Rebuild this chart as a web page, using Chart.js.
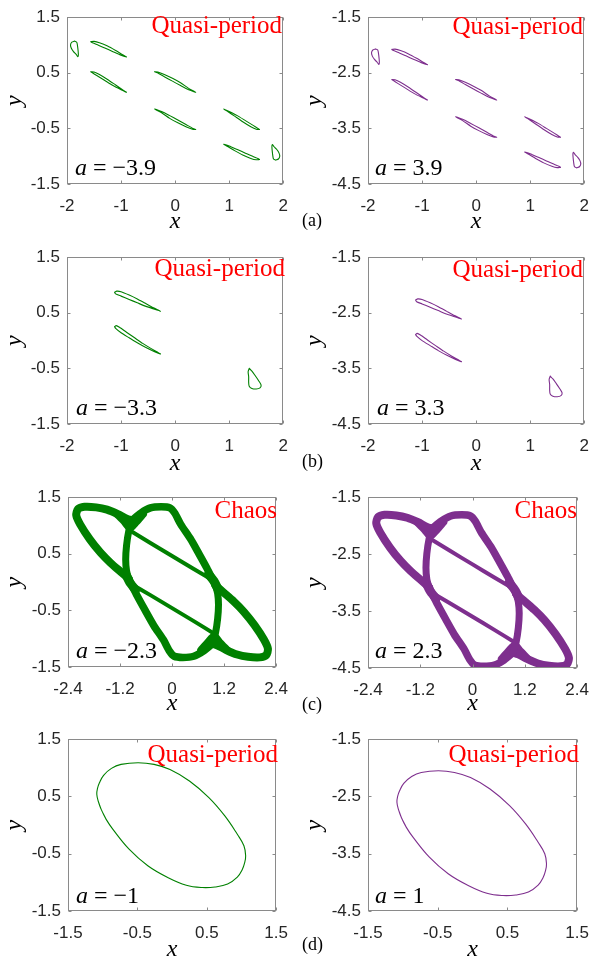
<!DOCTYPE html>
<html><head><meta charset="utf-8">
<script src="https://cdn.jsdelivr.net/npm/chart.js@4.4.1/dist/chart.umd.min.js"></script>
<style>
html,body{margin:0;padding:0;background:#fff;}
#fig{position:relative;width:601px;height:966px;overflow:hidden;background:#fff;}
canvas{position:absolute;}
</style></head><body><div id="fig"></div>
<script>
// ---------- tick values ----------
const xTicksAB = [-2, -1, 0, 1, 2];
const xTicksC = [-2.4, -1.2, 0, 1.2, 2.4];
const xTicksD = [-1.5, -0.5, 0.5, 1.5];
const yTicksLeft = [-1.5, -0.5, 0.5, 1.5];
const yTicksRight = [-4.5, -3.5, -2.5, -1.5];

// ---------- (a) a = -3.9 ----------
const aL_loop1 = [[-1.86,1.07],[-1.91,1.05],[-1.935,1.00],[-1.92,0.94],[-1.88,0.88],[-1.83,0.83],[-1.80,0.79],[-1.79,0.82],[-1.795,0.90],[-1.805,0.98],[-1.82,1.05],[-1.86,1.07]];
const aL_loop2 = [[-1.56,1.06],[-1.50,1.065],[-1.40,1.04],[-1.25,0.98],[-1.10,0.90],[-0.98,0.83],[-0.90,0.785],[-1.00,0.815],[-1.15,0.88],[-1.30,0.945],[-1.45,1.01],[-1.53,1.04],[-1.56,1.06]];
const aL_loop3 = [[-1.56,0.52],[-1.50,0.515],[-1.40,0.47],[-1.25,0.38],[-1.10,0.28],[-0.98,0.20],[-0.90,0.15],[-1.00,0.195],[-1.15,0.27],[-1.30,0.36],[-1.45,0.45],[-1.53,0.50],[-1.56,0.52]];
const aL_loop4 = [[-0.38,0.52],[-0.32,0.515],[-0.20,0.47],[-0.05,0.40],[0.10,0.32],[0.25,0.22],[0.38,0.15],[0.25,0.195],[0.10,0.27],[-0.05,0.35],[-0.20,0.43],[-0.33,0.50],[-0.38,0.52]];
const aL_loop5 = [[0.38,-0.52],[0.32,-0.515],[0.20,-0.47],[0.05,-0.40],[-0.10,-0.32],[-0.25,-0.22],[-0.38,-0.15],[-0.25,-0.195],[-0.10,-0.27],[0.05,-0.35],[0.20,-0.43],[0.33,-0.50],[0.38,-0.52]];
const aL_loop6 = [[1.56,-0.52],[1.50,-0.515],[1.40,-0.47],[1.25,-0.38],[1.10,-0.28],[0.98,-0.20],[0.90,-0.15],[1.00,-0.195],[1.15,-0.27],[1.30,-0.36],[1.45,-0.45],[1.53,-0.50],[1.56,-0.52]];
const aL_loop7 = [[1.56,-1.06],[1.50,-1.065],[1.40,-1.04],[1.25,-0.98],[1.10,-0.90],[0.98,-0.83],[0.90,-0.785],[1.00,-0.815],[1.15,-0.88],[1.30,-0.945],[1.45,-1.01],[1.53,-1.04],[1.56,-1.06]];
const aL_loop8 = [[1.86,-1.07],[1.91,-1.05],[1.935,-1.00],[1.92,-0.94],[1.88,-0.88],[1.83,-0.83],[1.80,-0.79],[1.79,-0.82],[1.795,-0.90],[1.805,-0.98],[1.82,-1.05],[1.86,-1.07]];

// ---------- (a) a = 3.9 ----------
const aR_loop1 = [[-1.86,-2.07],[-1.91,-2.09],[-1.935,-2.14],[-1.92,-2.20],[-1.88,-2.26],[-1.83,-2.31],[-1.80,-2.35],[-1.79,-2.32],[-1.795,-2.24],[-1.805,-2.16],[-1.82,-2.09],[-1.86,-2.07]];
const aR_loop2 = [[-1.56,-2.08],[-1.50,-2.075],[-1.40,-2.10],[-1.25,-2.16],[-1.10,-2.24],[-0.98,-2.31],[-0.90,-2.355],[-1.00,-2.325],[-1.15,-2.26],[-1.30,-2.195],[-1.45,-2.13],[-1.53,-2.10],[-1.56,-2.08]];
const aR_loop3 = [[-1.56,-2.62],[-1.50,-2.625],[-1.40,-2.67],[-1.25,-2.76],[-1.10,-2.86],[-0.98,-2.94],[-0.90,-2.99],[-1.00,-2.945],[-1.15,-2.87],[-1.30,-2.78],[-1.45,-2.69],[-1.53,-2.64],[-1.56,-2.62]];
const aR_loop4 = [[-0.38,-2.62],[-0.32,-2.625],[-0.20,-2.67],[-0.05,-2.74],[0.10,-2.82],[0.25,-2.92],[0.38,-2.99],[0.25,-2.945],[0.10,-2.87],[-0.05,-2.79],[-0.20,-2.71],[-0.33,-2.64],[-0.38,-2.62]];
const aR_loop5 = [[0.38,-3.66],[0.32,-3.655],[0.20,-3.61],[0.05,-3.54],[-0.10,-3.46],[-0.25,-3.36],[-0.38,-3.29],[-0.25,-3.335],[-0.10,-3.41],[0.05,-3.49],[0.20,-3.57],[0.33,-3.64],[0.38,-3.66]];
const aR_loop6 = [[1.56,-3.66],[1.50,-3.655],[1.40,-3.61],[1.25,-3.52],[1.10,-3.42],[0.98,-3.34],[0.90,-3.29],[1.00,-3.335],[1.15,-3.41],[1.30,-3.50],[1.45,-3.59],[1.53,-3.64],[1.56,-3.66]];
const aR_loop7 = [[1.56,-4.20],[1.50,-4.205],[1.40,-4.18],[1.25,-4.12],[1.10,-4.04],[0.98,-3.97],[0.90,-3.925],[1.00,-3.955],[1.15,-4.02],[1.30,-4.085],[1.45,-4.15],[1.53,-4.18],[1.56,-4.20]];
const aR_loop8 = [[1.86,-4.21],[1.91,-4.19],[1.935,-4.14],[1.92,-4.08],[1.88,-4.02],[1.83,-3.97],[1.80,-3.93],[1.79,-3.96],[1.795,-4.04],[1.805,-4.12],[1.82,-4.19],[1.86,-4.21]];

// ---------- (b) a = -3.3 / 3.3 ----------
const bL_loopA = [[-1.12,0.87],[-1.08,0.89],[-1.00,0.88],[-0.85,0.82],[-0.70,0.75],[-0.55,0.67],[-0.40,0.59],[-0.27,0.53],[-0.40,0.57],[-0.55,0.62],[-0.70,0.68],[-0.85,0.74],[-1.00,0.80],[-1.10,0.84],[-1.12,0.87]];
const bL_loopB = [[-1.12,0.25],[-1.09,0.27],[-1.03,0.24],[-0.90,0.15],[-0.75,0.05],[-0.60,-0.05],[-0.45,-0.14],[-0.27,-0.24],[-0.40,-0.19],[-0.55,-0.12],[-0.70,-0.04],[-0.85,0.05],[-1.00,0.14],[-1.10,0.22],[-1.12,0.25]];
const bL_loopC = [[1.37,-0.50],[1.35,-0.56],[1.36,-0.65],[1.36,-0.75],[1.37,-0.82],[1.42,-0.86],[1.50,-0.87],[1.57,-0.85],[1.59,-0.80],[1.55,-0.73],[1.48,-0.63],[1.42,-0.55],[1.37,-0.50]];
const bR_loopA = [[-1.12,-2.27],[-1.08,-2.25],[-1.00,-2.26],[-0.85,-2.32],[-0.70,-2.39],[-0.55,-2.47],[-0.40,-2.55],[-0.27,-2.61],[-0.40,-2.57],[-0.55,-2.52],[-0.70,-2.46],[-0.85,-2.40],[-1.00,-2.34],[-1.10,-2.30],[-1.12,-2.27]];
const bR_loopB = [[-1.12,-2.89],[-1.09,-2.87],[-1.03,-2.90],[-0.90,-2.99],[-0.75,-3.09],[-0.60,-3.19],[-0.45,-3.28],[-0.27,-3.38],[-0.40,-3.33],[-0.55,-3.26],[-0.70,-3.18],[-0.85,-3.09],[-1.00,-3.00],[-1.10,-2.92],[-1.12,-2.89]];
const bR_loopC = [[1.37,-3.64],[1.35,-3.70],[1.36,-3.79],[1.36,-3.89],[1.37,-3.96],[1.42,-4.00],[1.50,-4.01],[1.57,-3.99],[1.59,-3.94],[1.55,-3.87],[1.48,-3.77],[1.42,-3.69],[1.37,-3.64]];

// ---------- (c) a = -2.3 (chaos bands) ----------
const cL_outerUL = [[-1.00,0.06],[-1.18,0.18],[-1.42,0.34],[-1.65,0.52],[-1.90,0.76],[-2.12,1.02],[-2.21,1.18],[-2.17,1.29],[-2.02,1.33],[-1.75,1.32],[-1.50,1.28],[-1.25,1.20],[-1.05,1.12],[-0.93,1.09]];
const cL_innerL = [[-0.93,1.09],[-1.00,0.90],[-1.05,0.65],[-1.07,0.40],[-1.05,0.20],[-1.00,0.06]];
const cL_lobeUR = [[-0.93,1.09],[-0.72,1.22],[-0.50,1.31],[-0.25,1.33],[-0.05,1.31],[0.06,1.22],[0.20,1.02],[0.42,0.77],[0.62,0.50],[0.80,0.25],[0.93,0.05],[1.00,-0.06]];
const cL_diagU = [[-0.99,0.92],[-0.50,0.69],[0.00,0.46],[0.50,0.23],[0.97,0.02]];
const cL_innerR = [[1.00,-0.06],[1.05,-0.20],[1.07,-0.40],[1.05,-0.65],[1.00,-0.90],[0.93,-1.09]];
const cL_diagD = [[-0.97,-0.02],[-0.50,-0.23],[0.00,-0.46],[0.50,-0.69],[0.99,-0.92]];
const cL_lobeDL = [[-1.00,0.06],[-0.93,-0.05],[-0.80,-0.25],[-0.62,-0.50],[-0.42,-0.77],[-0.20,-1.02],[-0.06,-1.22],[0.05,-1.31],[0.25,-1.33],[0.50,-1.31],[0.72,-1.22],[0.93,-1.09]];
const cL_outerDR = [[1.00,-0.06],[1.18,-0.18],[1.42,-0.34],[1.65,-0.52],[1.90,-0.76],[2.12,-1.02],[2.21,-1.18],[2.17,-1.29],[2.02,-1.33],[1.75,-1.32],[1.50,-1.28],[1.25,-1.20],[1.05,-1.12],[0.93,-1.09]];
const cL_knotTop = [[-1.28,1.20],[-1.10,1.06],[-0.97,0.95],[-0.82,1.06],[-0.66,1.20]];
const cL_knotBot = [[1.28,-1.20],[1.10,-1.06],[0.97,-0.95],[0.82,-1.06],[0.66,-1.20]];
const cL_knotLeft = [[-1.07,0.14],[-0.98,0.00],[-0.84,-0.14]];
const cL_knotRight = [[1.07,-0.14],[0.98,0.00],[0.84,0.14]];

// ---------- (c) a = 2.3 ----------
const cR_outerUL = [[-1.00,-3.08],[-1.18,-2.96],[-1.42,-2.80],[-1.65,-2.62],[-1.90,-2.38],[-2.12,-2.12],[-2.21,-1.96],[-2.17,-1.85],[-2.02,-1.81],[-1.75,-1.82],[-1.50,-1.86],[-1.25,-1.94],[-1.05,-2.02],[-0.93,-2.05]];
const cR_innerL = [[-0.93,-2.05],[-1.00,-2.24],[-1.05,-2.49],[-1.07,-2.74],[-1.05,-2.94],[-1.00,-3.08]];
const cR_lobeUR = [[-0.93,-2.05],[-0.72,-1.92],[-0.50,-1.83],[-0.25,-1.81],[-0.05,-1.83],[0.06,-1.92],[0.20,-2.12],[0.42,-2.37],[0.62,-2.64],[0.80,-2.89],[0.93,-3.09],[1.00,-3.20]];
const cR_diagU = [[-0.99,-2.22],[-0.50,-2.45],[0.00,-2.68],[0.50,-2.91],[0.97,-3.12]];
const cR_innerR = [[1.00,-3.20],[1.05,-3.34],[1.07,-3.54],[1.05,-3.79],[1.00,-4.04],[0.93,-4.23]];
const cR_diagD = [[-0.97,-3.16],[-0.50,-3.37],[0.00,-3.60],[0.50,-3.83],[0.99,-4.06]];
const cR_lobeDL = [[-1.00,-3.08],[-0.93,-3.19],[-0.80,-3.39],[-0.62,-3.64],[-0.42,-3.91],[-0.20,-4.16],[-0.06,-4.36],[0.05,-4.45],[0.25,-4.47],[0.50,-4.45],[0.72,-4.36],[0.93,-4.23]];
const cR_outerDR = [[1.00,-3.20],[1.18,-3.32],[1.42,-3.48],[1.65,-3.66],[1.90,-3.90],[2.12,-4.16],[2.21,-4.32],[2.17,-4.43],[2.02,-4.47],[1.75,-4.46],[1.50,-4.42],[1.25,-4.34],[1.05,-4.26],[0.93,-4.23]];
const cR_knotTop = [[-1.28,-1.94],[-1.10,-2.08],[-0.97,-2.19],[-0.82,-2.08],[-0.66,-1.94]];
const cR_knotBot = [[1.28,-4.34],[1.10,-4.20],[0.97,-4.09],[0.82,-4.20],[0.66,-4.34]];
const cR_knotLeft = [[-1.07,-3.00],[-0.98,-3.14],[-0.84,-3.28]];
const cR_knotRight = [[1.07,-3.28],[0.98,-3.14],[0.84,-3.00]];

// ---------- (d) a = -1 / 1 (orbit traced slightly past its start) ----------
const dL_orbit = [[-0.95,0.10],[-1.02,0.27],[-1.065,0.42],[-1.085,0.54],[-1.075,0.64],[-1.047,0.74],[-0.987,0.87],[-0.874,0.99],[-0.736,1.06],[-0.49,1.09],[-0.26,1.06],[-0.03,0.97],[0.25,0.77],[0.53,0.48],[0.76,0.16],[0.94,-0.16],[1.035,-0.36],[1.06,-0.535],[1.045,-0.66],[1.01,-0.78],[0.94,-0.91],[0.80,-1.03],[0.62,-1.08],[0.435,-1.09],[0.205,-1.05],[-0.07,-0.91],[-0.35,-0.71],[-0.62,-0.42],[-0.855,-0.07],[-0.95,0.10],[-1.02,0.27],[-1.065,0.42]];
const dR_orbit = [[-0.95,-3.04],[-1.02,-2.87],[-1.065,-2.72],[-1.085,-2.60],[-1.075,-2.50],[-1.047,-2.40],[-0.987,-2.27],[-0.874,-2.15],[-0.736,-2.08],[-0.49,-2.05],[-0.26,-2.08],[-0.03,-2.17],[0.25,-2.37],[0.53,-2.66],[0.76,-2.98],[0.94,-3.30],[1.035,-3.50],[1.06,-3.675],[1.045,-3.80],[1.01,-3.92],[0.94,-4.05],[0.80,-4.17],[0.62,-4.22],[0.435,-4.23],[0.205,-4.19],[-0.07,-4.05],[-0.35,-3.85],[-0.62,-3.56],[-0.855,-3.21],[-0.95,-3.04],[-1.02,-2.87],[-1.065,-2.72]];

// ---------- styling / layout ----------
const GREEN = '#008000', PURPLE = '#7E2F8E';
const thin = (pts, t) => ({pts, w: 1.1, t: t});
const band = (pts, w) => ({pts, w, t: 0.25});

const framePlugin = {
  id: 'frame',
  afterDatasetsDraw(chart) {
    const {ctx, chartArea: ca, scales: {x, y}} = chart;
    ctx.save();
    ctx.strokeStyle = '#8a8a8a'; ctx.lineWidth = 1;
    const L = Math.round(ca.left) + 0.5, T = Math.round(ca.top) + 0.5, R = Math.round(ca.right) - 0.5, B = Math.round(ca.bottom) - 0.5;
    ctx.strokeRect(L, T, R - L, B - T);
    ctx.beginPath();
    x.ticks.forEach(t => { const px = Math.round(x.getPixelForValue(t.value)) + 0.5; ctx.moveTo(px, B); ctx.lineTo(px, B - 3); ctx.moveTo(px, T); ctx.lineTo(px, T + 3); });
    y.ticks.forEach(t => { const py = Math.round(y.getPixelForValue(t.value)) + 0.5; ctx.moveTo(L, py); ctx.lineTo(L + 3, py); ctx.moveTo(R, py); ctx.lineTo(R - 3, py); });
    ctx.stroke();
    ctx.restore();
  }
};

const annotPlugin = {
  id: 'annot',
  afterDraw(chart, args, o) {
    const ctx = chart.ctx;
    ctx.save();
    ctx.textBaseline = 'alphabetic';
    if (o.state) {
      ctx.font = '25px "Liberation Serif", "Times New Roman", serif';
      ctx.fillStyle = '#ff0000'; ctx.textAlign = 'right';
      ctx.fillText(o.state.text, o.state.x, o.state.y);
    }
    if (o.a) {
      ctx.textAlign = 'left'; ctx.fillStyle = '#000';
      ctx.font = 'italic 24px "Liberation Serif", "Times New Roman", serif';
      ctx.fillText('a', o.a.x, o.a.y);
      const w = ctx.measureText('a').width;
      ctx.font = '24px "Liberation Serif", "Times New Roman", serif';
      ctx.fillText(' = ' + o.a.val, o.a.x + w, o.a.y);
    }
    if (o.tag) {
      ctx.font = '18px "Liberation Serif", "Times New Roman", serif';
      ctx.fillStyle = '#000'; ctx.textAlign = 'left';
      ctx.fillText(o.tag.text, o.tag.x, o.tag.y);
    }
    ctx.restore();
  }
};

const fig = document.getElementById('fig');
const toXY = a => a.map(p => ({x: p[0], y: p[1]}));

function makePanel(p) {
  const cv = document.createElement('canvas');
  cv.width = p.cw; cv.height = p.ch;
  cv.style.left = p.cx + 'px'; cv.style.top = p.cy + 'px';
  cv.style.width = p.cw + 'px'; cv.style.height = p.ch + 'px';
  fig.appendChild(cv);
  const yW = p.area[0] - p.cx, padR = p.cx + p.cw - p.area[2], padT = p.area[1] - p.cy, xH = p.cy + p.ch - p.area[3];
  const xMid = p.xTitle - 2.4 - p.cy;
  const xPadB = p.ch - 12 - xMid;
  const loc = (q) => q ? Object.assign({}, q, {x: q.x - p.cx, y: q.y - p.cy}) : null;
  const tickFont = {family: '"Liberation Sans", Arial, sans-serif', size: 17};
  const titleFont = {family: '"Liberation Serif", "Times New Roman", serif', style: 'italic', size: 24, lineHeight: 1};
  new Chart(cv, {
    type: 'scatter',
    data: {datasets: p.sets.map(s => ({
      data: toXY(s.pts), showLine: true, borderColor: p.color, backgroundColor: p.color,
      borderWidth: s.w, pointRadius: 0, pointHoverRadius: 0, tension: s.t,
      borderJoinStyle: 'round', borderCapStyle: 'round', fill: false
    }))},
    options: {
      responsive: false, animation: false, devicePixelRatio: 1, events: [],
      layout: {padding: {top: padT, right: padR, left: 0, bottom: 0}, autoPadding: false},
      plugins: {legend: {display: false}, tooltip: {enabled: false},
        annot: {state: loc(p.state), a: loc(p.a), tag: loc(p.tag)}},
      scales: {
        x: {type: 'linear', min: p.xr[0], max: p.xr[1],
          afterBuildTicks: s => { s.ticks = p.xt.map(v => ({value: v})); },
          afterFit: s => { s.height = xH; },
          grid: {display: false, drawTicks: false}, border: {display: false},
          ticks: {padding: 12, color: '#262626', font: tickFont, callback: v => String(v), maxRotation: 0, autoSkip: false},
          title: {display: true, text: 'x', color: '#000', font: titleFont, padding: {top: 0, bottom: xPadB}}},
        y: {type: 'linear', min: p.yr[0], max: p.yr[1],
          afterBuildTicks: s => { s.ticks = p.yt.map(v => ({value: v})); },
          afterFit: s => { s.width = yW; },
          grid: {display: false, drawTicks: false}, border: {display: false},
          ticks: {padding: 7, color: '#262626', font: tickFont, callback: v => String(v), autoSkip: false},
          title: {display: true, text: 'y', color: '#000', font: titleFont, padding: {top: 2.5, bottom: 0}}}
      }
    },
    plugins: [framePlugin, annotPlugin]
  });
}

const chaosSets = (E) => [
  band(E[0], 8), band(E[1], 7), band(E[2], 7.5), band(E[3], 4),
  band(E[4], 7), band(E[5], 4), band(E[6], 7.5), band(E[7], 8),
  band(E[8], 7), band(E[9], 7), band(E[10], 9), band(E[11], 9)
];

const panels = [
  {cx: 0, cy: 0, cw: 300, ch: 240, area: [67, 14, 294, 184], xr: [-2, 2], xt: xTicksAB, yr: [-1.5, 1.5], yt: yTicksLeft, color: GREEN, xTitle: 224,
   sets: [thin(aL_loop1, 0.3), thin(aL_loop2, 0.2), thin(aL_loop3, 0.2), thin(aL_loop4, 0.2), thin(aL_loop5, 0.2), thin(aL_loop6, 0.2), thin(aL_loop7, 0.2), thin(aL_loop8, 0.3)],
   state: {text: 'Quasi-period', x: 282, y: 33}, a: {val: '\u22123.9', x: 75, y: 175}},
  {cx: 300, cy: 0, cw: 301, ch: 240, area: [368, 14, 594, 184], xr: [-2, 2], xt: xTicksAB, yr: [-4.5, -1.5], yt: yTicksRight, color: PURPLE, xTitle: 224,
   sets: [thin(aR_loop1, 0.3), thin(aR_loop2, 0.2), thin(aR_loop3, 0.2), thin(aR_loop4, 0.2), thin(aR_loop5, 0.2), thin(aR_loop6, 0.2), thin(aR_loop7, 0.2), thin(aR_loop8, 0.3)],
   state: {text: 'Quasi-period', x: 583, y: 34}, a: {val: '3.9', x: 375, y: 175}, tag: {text: '(a)', x: 302, y: 226}},
  {cx: 0, cy: 240, cw: 300, ch: 240, area: [67, 254, 294, 424], xr: [-2, 2], xt: xTicksAB, yr: [-1.5, 1.5], yt: yTicksLeft, color: GREEN, xTitle: 466,
   sets: [thin(bL_loopA, 0.2), thin(bL_loopB, 0.2), thin(bL_loopC, 0.3)],
   state: {text: 'Quasi-period', x: 285, y: 276}, a: {val: '\u22123.3', x: 76, y: 415}},
  {cx: 300, cy: 240, cw: 301, ch: 240, area: [368, 255, 594, 424], xr: [-2, 2], xt: xTicksAB, yr: [-4.5, -1.5], yt: yTicksRight, color: PURPLE, xTitle: 466,
   sets: [thin(bR_loopA, 0.2), thin(bR_loopB, 0.2), thin(bR_loopC, 0.3)],
   state: {text: 'Quasi-period', x: 583, y: 277}, a: {val: '3.3', x: 377, y: 415}, tag: {text: '(b)', x: 302, y: 467}},
  {cx: 0, cy: 480, cw: 300, ch: 242, area: [68, 496, 285, 667], xr: [-2.4, 2.4], xt: xTicksC, yr: [-1.5, 1.5], yt: yTicksLeft, color: GREEN, xTitle: 706,
   sets: chaosSets([cL_outerUL, cL_innerL, cL_lobeUR, cL_diagU, cL_innerR, cL_diagD, cL_lobeDL, cL_outerDR, cL_knotTop, cL_knotBot, cL_knotLeft, cL_knotRight]),
   state: {text: 'Chaos', x: 277, y: 518}, a: {val: '\u22122.3', x: 76, y: 658}},
  {cx: 300, cy: 480, cw: 301, ch: 242, area: [368, 495, 587, 668], xr: [-2.4, 2.4], xt: xTicksC, yr: [-4.5, -1.5], yt: yTicksRight, color: PURPLE, xTitle: 706,
   sets: chaosSets([cR_outerUL, cR_innerL, cR_lobeUR, cR_diagU, cR_innerR, cR_diagD, cR_lobeDL, cR_outerDR, cR_knotTop, cR_knotBot, cR_knotLeft, cR_knotRight]),
   state: {text: 'Chaos', x: 577, y: 518}, a: {val: '2.3', x: 375, y: 658}, tag: {text: '(c)', x: 302, y: 710}},
  {cx: 0, cy: 722, cw: 300, ch: 244, area: [68, 739, 285, 911], xr: [-1.5, 1.5], xt: xTicksD, yr: [-1.5, 1.5], yt: yTicksLeft, color: GREEN, xTitle: 952,
   sets: [thin(dL_orbit, 0.4)],
   state: {text: 'Quasi-period', x: 278, y: 762}, a: {val: '\u22121', x: 76, y: 903}},
  {cx: 300, cy: 722, cw: 301, ch: 244, area: [368, 739, 587, 911], xr: [-1.5, 1.5], xt: xTicksD, yr: [-4.5, -1.5], yt: yTicksRight, color: PURPLE, xTitle: 952,
   sets: [thin(dR_orbit, 0.4)],
   state: {text: 'Quasi-period', x: 579, y: 762}, a: {val: '1', x: 375, y: 903}, tag: {text: '(d)', x: 302, y: 950}}
];

panels.forEach(makePanel);
</script></body></html>
